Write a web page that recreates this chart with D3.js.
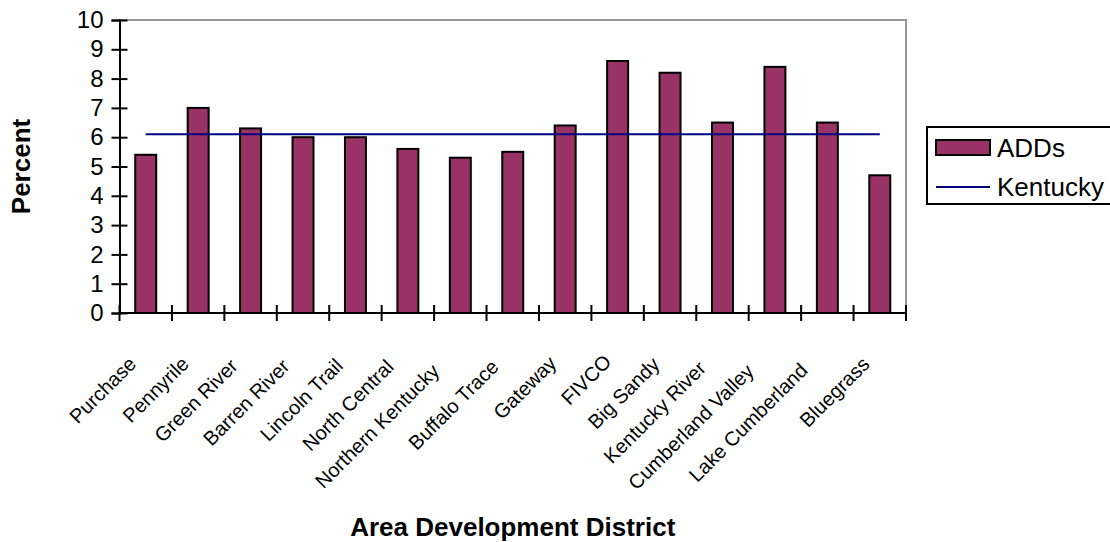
<!DOCTYPE html>
<html lang="en">
<head>
    <meta charset="UTF-8">
    <title>ADD chart</title>
    <script src="https://cdn.jsdelivr.net/npm/d3@7"></script>
    <style>
        body { margin: 0; background: #fff; }
        text { font-family: "Liberation Sans", Arial, sans-serif; }
    </style>
</head>
<body>
    <script>
        var categories = ["Purchase", "Pennyrile", "Green River", "Barren River", "Lincoln Trail",
            "North Central", "Northern Kentucky", "Buffalo Trace", "Gateway", "FIVCO",
            "Big Sandy", "Kentucky River", "Cumberland Valley", "Lake Cumberland", "Bluegrass"];
        var addValues = [5.4, 7.0, 6.3, 6.0, 6.0, 5.6, 5.3, 5.5, 6.4, 8.6, 8.2, 6.5, 8.4, 6.5, 4.7];
        var kentuckyValue = 6.1;   // state level, same for every district
        var yTicks = [0, 1, 2, 3, 4, 5, 6, 7, 8, 9, 10];

        var width = 1110, height = 542;
        var plot = {left: 119.5, right: 906, top: 20, bottom: 313};

        var svg = d3.select("body").append("svg")
                .attr("width", width).attr("height", height);

        // slot scale: one slot per district, no padding
        var x = d3.scaleBand().domain(categories).range([plot.left, plot.right]).padding(0);
        var y = d3.scaleLinear().domain([0, 10]).range([plot.bottom, plot.top]);
        var step = x.step();
        var barW = step / 2.5;

        /* plot area border (top + right, grey) */
        svg.append("path")
                .attr("d", "M" + plot.left + "," + plot.top + "H" + plot.right + "V" + plot.bottom)
                .attr("fill", "none").attr("stroke", "#999").attr("stroke-width", 2);

        /* bars */
        svg.selectAll("rect.bar")
                .data(addValues)
                .enter().append("rect")
                .attr("class", "bar")
                .attr("x", function(d, i){ return x(categories[i]) + (step - barW) / 2; })
                .attr("y", function(d){ return y(d); })
                .attr("width", barW)
                .attr("height", function(d){ return y(0) - y(d); })
                .attr("fill", "#993366")
                .attr("stroke", "#000").attr("stroke-width", 2);

        /* Kentucky line, first slot centre to last slot centre */
        var line = d3.line()
                .x(function(d){ return x(d) + step / 2; })
                .y(function(){ return y(kentuckyValue); });
        svg.append("path")
                .datum(categories)
                .attr("d", line)
                .attr("fill", "none").attr("stroke", "#000080").attr("stroke-width", 2);

        /* y axis */
        var yAxis = svg.append("g")
                .attr("transform", "translate(" + plot.left + ",0)")
                .call(d3.axisLeft(y).tickValues(yTicks).tickSize(8).tickPadding(8));
        yAxis.select(".domain").attr("stroke", "#000").attr("stroke-width", 2);
        yAxis.selectAll(".tick line").attr("x1", 8).attr("stroke", "#000").attr("stroke-width", 2);
        yAxis.selectAll(".tick text").attr("font-size", 24).attr("fill", "#000")
                .attr("font-family", "Liberation Sans, Arial, sans-serif");

        /* x axis: ticks between districts */
        var bounds = categories.map(function(c){ return x(c); }).concat([plot.right]);
        svg.append("line")
                .attr("x1", plot.left).attr("x2", plot.right)
                .attr("y1", plot.bottom).attr("y2", plot.bottom)
                .attr("stroke", "#000").attr("stroke-width", 2);
        svg.selectAll("line.xtick")
                .data(bounds)
                .enter().append("line")
                .attr("class", "xtick")
                .attr("x1", function(d){ return d; }).attr("x2", function(d){ return d; })
                .attr("y1", plot.bottom - 8).attr("y2", plot.bottom + 8)
                .attr("stroke", "#000").attr("stroke-width", 2);

        /* district labels, rotated 45 deg; longer names sit a bit lower-left */
        svg.selectAll("text.cat")
                .data(categories)
                .enter().append("text")
                .attr("class", "cat")
                .attr("text-anchor", "end")
                .attr("font-size", 20)
                .text(function(d){ return d; })
                .attr("transform", function(d){
                    var s = this.getComputedTextLength() - 61;
                    var ex = x(d) + step / 2 - 5 - 0.14 * s;
                    var ey = 363 + 0.09 * s;
                    return "translate(" + ex + "," + ey + ") rotate(-45)";
                });

        /* axis titles */
        svg.append("text")
                .attr("x", (plot.left + plot.right) / 2).attr("y", 536)
                .attr("text-anchor", "middle")
                .attr("font-size", 26).attr("font-weight", "bold")
                .text("Area Development District");
        svg.append("text")
                .attr("transform", "translate(30," + ((plot.top + plot.bottom) / 2) + ") rotate(-90)")
                .attr("text-anchor", "middle")
                .attr("font-size", 26).attr("font-weight", "bold")
                .text("Percent");

        /* legend */
        var lg = svg.append("g").attr("transform", "translate(927,127)");
        lg.append("rect")
                .attr("x", 0).attr("y", 0).attr("width", 200).attr("height", 77)
                .attr("fill", "#fff").attr("stroke", "#000").attr("stroke-width", 2);
        lg.append("rect")
                .attr("x", 9).attr("y", 13).attr("width", 54).attr("height", 15)
                .attr("fill", "#993366").attr("stroke", "#000").attr("stroke-width", 2);
        lg.append("text").attr("x", 70).attr("y", 30).attr("font-size", 26).text("ADDs");
        lg.append("line")
                .attr("x1", 9).attr("x2", 63).attr("y1", 60).attr("y2", 60)
                .attr("stroke", "#000080").attr("stroke-width", 2);
        lg.append("text").attr("x", 70).attr("y", 69).attr("font-size", 26).text("Kentucky");
    </script>
</body>
</html>
